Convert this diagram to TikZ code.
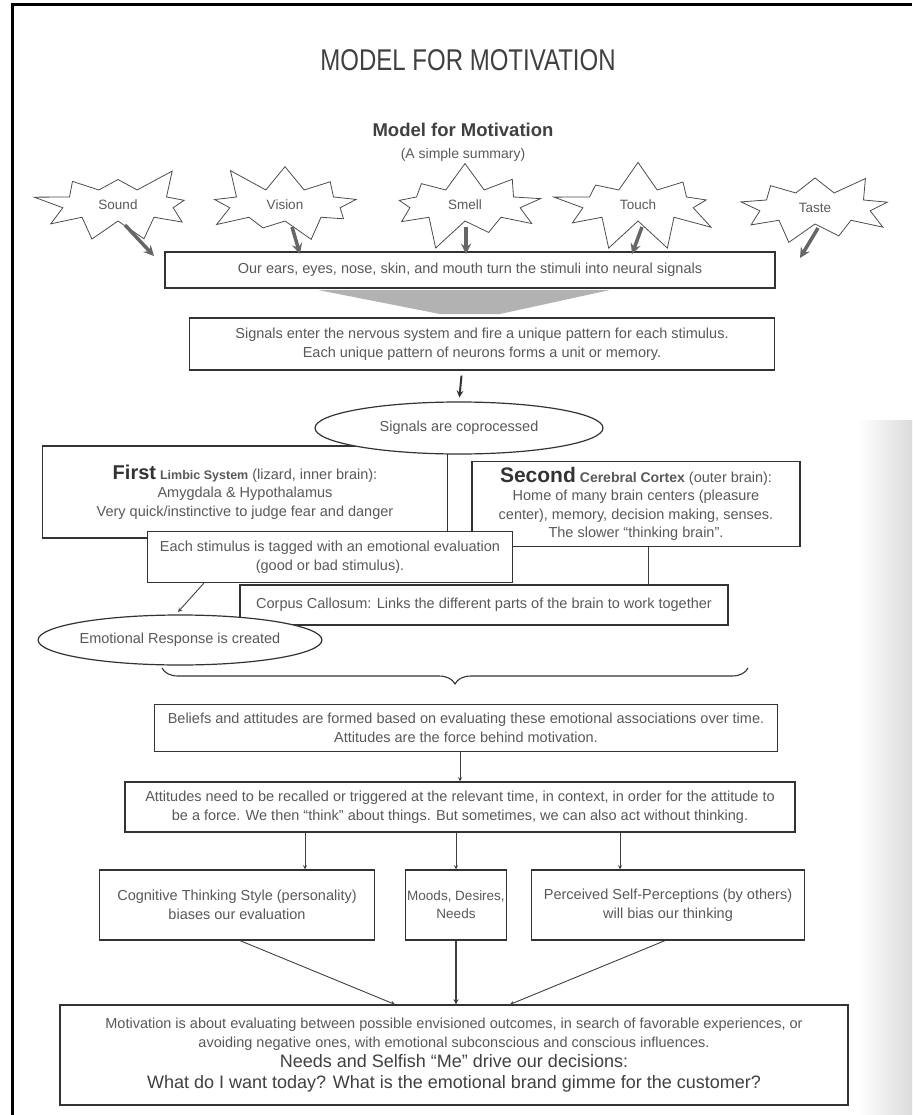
\documentclass[tikz,border=0pt]{standalone}
\usepackage{fontspec}
\setmainfont{Liberation Sans}
\usepackage{graphicx}
\usetikzlibrary{shapes.geometric, shapes.symbols, arrows, decorations.pathreplacing}

\newcommand{\bodyfont}{\fontsize{14.5}{18.5}\selectfont}
\newcommand{\bigfont}{\fontsize{18}{22}\selectfont}

\tikzstyle{sense} = [
    starburst,
    starburst points=9,
    starburst point height=30pt,
    minimum width=172pt,
    minimum height=92pt,
    draw=black!70,
    line width=0.8pt,
    font=\fontsize{13.5}{15}\selectfont,
    text=black!65
]
\tikzstyle{process} = [
    rectangle,
    draw=black!80,
    line width=1.2pt,
    fill=white,
    align=center,
    inner sep=2pt,
    font=\bodyfont,
    text=black!65
]
\tikzstyle{bubble} = [
    ellipse,
    draw=black!80,
    line width=1.2pt,
    fill=white,
    inner sep=0pt,
    font=\bodyfont,
    text=black!65
]
\tikzstyle{arrow} = [line width=0.9pt,->,>=stealth,draw=black!75]
\tikzstyle{bigarrow} = [line width=3.5pt,->,>=stealth,draw=black!60]
\tikzstyle{midarrow} = [line width=2pt,->,>=stealth,draw=black!80]

\begin{document}
\begin{tikzpicture}[x=1pt, y=-1pt]
\useasboundingbox (0,0) rectangle (912,1115);

% page edge
\shade[left color=white, right color=black!14] (858,420) rectangle (912,1115);
\draw[line width=3pt] (12,1115) -- (12,5) -- (912,5);

\node (title) [text=black!75] at (468,60)
{\scalebox{0.8}[1]{\fontsize{30}{34}\selectfont MODEL FOR MOTIVATION}};
\node (heading) [font=\fontsize{18.5}{20}\selectfont\bfseries, text=black!75] at (463,130)
{Model for Motivation};
\node (summary) [font=\fontsize{14}{16}\selectfont, text=black!65] at (463,155)
{(A simple summary)};

% the five senses
\node (sound) [sense, random starburst=3] at (118,205) {Sound};
\node (vision) [sense, random starburst=11] at (285,205) {Vision};
\node (smell) [sense, random starburst=27] at (465,205) {Smell};
\node (touch) [sense, random starburst=40] at (638,205) {Touch};
\node (taste) [sense, random starburst=55] at (815,208) {Taste};

\node (ears) [process, minimum width=610pt, minimum height=36pt] at (470,270)
{Our ears, eyes, nose, skin, and mouth turn the stimuli into neural signals};

\coordinate (soundin) at (154,256);
\coordinate (visionin) at (300,254);
\coordinate (smellin) at (466,254);
\coordinate (touchin) at (632,254);
\coordinate (tastein) at (800,258);
\draw [bigarrow] ([shift={(7,20)}]sound.center) -- (soundin);
\draw [bigarrow] ([shift={(7,22)}]vision.center) -- (visionin);
\draw [bigarrow] ([shift={(1,22)}]smell.center) -- (smellin);
\draw [bigarrow] ([shift={(4,22)}]touch.center) -- (touchin);
\draw [bigarrow] ([shift={(3,20)}]taste.center) -- (tastein);

\fill[black!30] (318,290) -- (610,290) -- (500,314) -- (440,314) -- cycle;

\node (signals) [process, minimum width=585pt, minimum height=52pt] at (482,344)
{Signals enter the nervous system and fire a unique pattern for each stimulus.\\
Each unique pattern of neurons forms a unit or memory.};

\node (limbic) [process, minimum width=405pt, minimum height=92pt] at (245,492)
{{\fontsize{20}{24}\selectfont\bfseries\color{black!80}First}
{\fontsize{12.5}{15}\selectfont\bfseries Limbic System} (lizard, inner brain):\\
Amygdala \& Hypothalamus\\
Very quick/instinctive to judge fear and danger};

\node (coproc) [bubble, minimum width=288pt, minimum height=52pt] at (459,428)
{Signals are coprocessed};

\node (cortex) [process, minimum width=328pt, minimum height=85pt] at (636,504)
{{\fontsize{21}{24}\selectfont\bfseries\color{black!80}Second}
{\fontsize{14}{17}\selectfont\bfseries Cerebral Cortex} (outer brain):\\
Home of many brain centers (pleasure\\
center), memory, decision making, senses.\\
The slower “thinking brain”.};

\node (tagged) [process, minimum width=365pt, minimum height=51pt] at (330,557)
{Each stimulus is tagged with an emotional evaluation\\
(good or bad stimulus).};

\node (corpus) [process, minimum width=488pt, minimum height=40pt] at (484,605)
{Corpus Callosum: Links the different parts of the brain to work together};

\node (response) [bubble, minimum width=265pt, minimum height=50pt] at (180,640)
{Emotional Response is created};

\draw [midarrow, shorten <=5pt, shorten >=4pt] ([xshift=-20pt]signals.south) -- (coproc.north);
\draw [line width=0.9pt, draw=black!75] ([xshift=12pt]cortex.south) -- ([xshift=12pt]cortex.south |- corpus.north);
\coordinate (respin) at (178,612);
\draw [arrow] ([xshift=57pt]tagged.south west) -- (respin);

\draw [decorate, decoration={brace, amplitude=16pt, mirror}, line width=1.1pt, draw=black!80]
(162,668) -- (748,668);

\node (beliefs) [process, minimum width=623pt, minimum height=47pt] at (466,728)
{Beliefs and attitudes are formed based on evaluating these emotional associations over time.\\
Attitudes are the force behind motivation.};

\node (recall) [process, minimum width=670pt, minimum height=50pt] at (460,807)
{Attitudes need to be recalled or triggered at the relevant time, in context, in order for the attitude to\\
be a force. We then “think” about things. But sometimes, we can also act without thinking.};

\node (cognitive) [process, minimum width=275pt, minimum height=70pt] at (237,905)
{Cognitive Thinking Style (personality)\\ biases our evaluation};
\node (moods) [process, minimum width=98pt, minimum height=70pt, font=\fontsize{13.5}{18}\selectfont] at (456,905)
{Moods, Desires,\\ Needs};
\node (selfview) [process, minimum width=273pt, minimum height=70pt] at (668,905)
{Perceived Self-Perceptions (by others)\\ will bias our thinking};

\node (motive) [process, minimum width=788pt, minimum height=100pt] at (454,1055)
{Motivation is about evaluating between possible envisioned outcomes, in search of favorable experiences, or\\
avoiding negative ones, with emotional subconscious and conscious influences.\\[2pt]
{\bigfont\color{black!75}Needs and Selfish “Me” drive our decisions:}\\[2pt]
{\bigfont\color{black!75}What do I want today? What is the emotional brand gimme for the customer?}};

\draw [arrow] (beliefs.south -| recall.north) -- (recall.north);
\draw [arrow] ([xshift=68pt]cognitive.north |- recall.south) -- ([xshift=68pt]cognitive.north);
\draw [arrow] (moods.north |- recall.south) -- (moods.north);
\draw [arrow] ([xshift=-48pt]selfview.north |- recall.south) -- ([xshift=-48pt]selfview.north);

\draw [arrow] ([xshift=3pt]cognitive.south) -- ([xshift=-59pt]motive.north);
\draw [arrow, line width=1.3pt] (moods.south) -- (moods.south |- motive.north);
\draw [arrow] ([xshift=-3pt]selfview.south) -- ([xshift=56pt]motive.north);

\end{tikzpicture}
\end{document}
